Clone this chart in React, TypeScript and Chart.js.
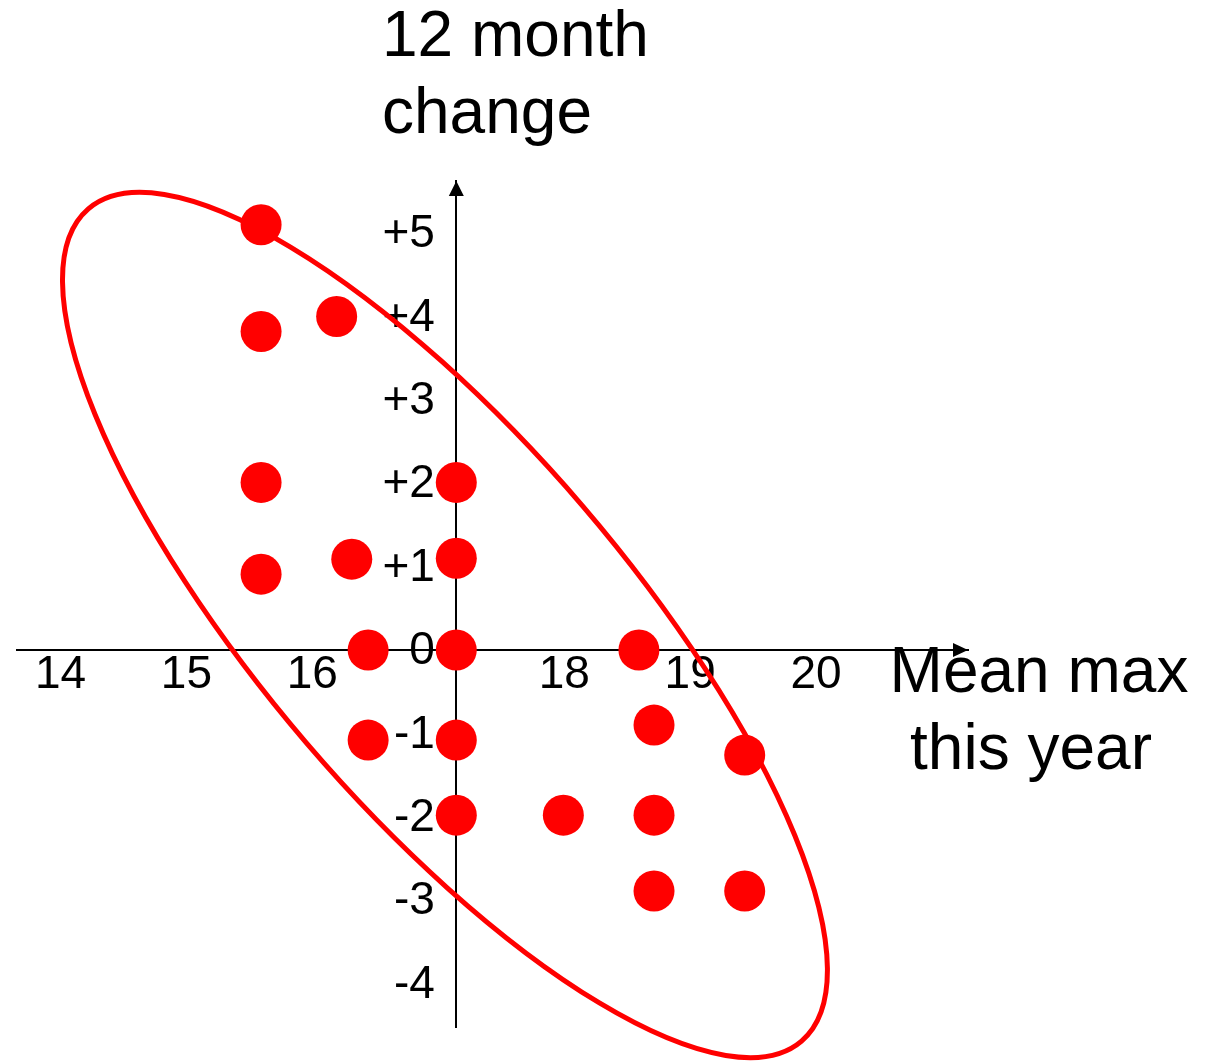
import React, { useEffect, useRef } from 'react';
import { Chart, registerables } from 'chart.js';

Chart.register(...registerables);

// Data: x = mean max this year, y = 12 month change
const MEAN_MAX = [15.45, 15.45, 16.05, 15.45, 15.45, 16.17, 16.3, 17, 17, 17, 16.3, 17, 17, 17.85, 18.45, 18.57, 19.29, 18.57, 18.57, 19.29];
const CHANGE = [5.1, 3.82, 4.0, 2.01, 0.91, 1.09, 0, 2.01, 1.1, 0, -1.08, -1.08, -1.98, -1.98, 0, -0.9, -1.26, -1.98, -2.89, -2.89];

const X_TICKS = [14, 15, 16, 18, 19, 20];
const Y_TICKS = [5, 4, 3, 2, 1, 0, -1, -2, -3, -4];

const X_TITLE = ['Mean max', 'this year'];
const Y_TITLE = ['12 month', 'change'];

const ELLIPSE_CENTER = { x: 16.91, y: 0.3 };

const FONT = "'Liberation Sans', Arial, sans-serif";
const X_MIN = 13.508;
const X_MAX = 21.063;
const Y_MIN = -4.52;
const Y_MAX = 5.624;

const SHIFT = 4; // canvas is shifted left by this many px

const ellipsePlugin = {
  id: 'ellipseOutline',
  beforeDatasetsDraw(chart: any) {
    const { ctx, scales } = chart;
    const cx = scales.x.getPixelForValue(ELLIPSE_CENTER.x);
    const cy = scales.y.getPixelForValue(ELLIPSE_CENTER.y);
    ctx.save();
    ctx.beginPath();
    ctx.ellipse(cx, cy, 548, 182, (49.4 * Math.PI) / 180, 0, Math.PI * 2);
    ctx.strokeStyle = '#ff0000';
    ctx.lineWidth = 5;
    ctx.stroke();
    ctx.restore();
  },
};

const arrowPlugin = {
  id: 'axisArrows',
  afterDatasetsDraw(chart: any) {
    const { ctx, scales } = chart;
    const ax = scales.x.getPixelForValue(17);
    const ay = scales.y.getPixelForValue(0);
    const top = scales.y.top;
    const right = scales.x.right;
    ctx.save();
    ctx.fillStyle = '#000';
    ctx.beginPath();
    ctx.moveTo(ax, top);
    ctx.lineTo(ax - 7.5, top + 15);
    ctx.lineTo(ax + 7.5, top + 15);
    ctx.closePath();
    ctx.fill();
    ctx.beginPath();
    ctx.moveTo(right, ay);
    ctx.lineTo(right - 15, ay - 7);
    ctx.lineTo(right - 15, ay + 7);
    ctx.closePath();
    ctx.fill();
    ctx.restore();
  },
};

const titlePlugin = {
  id: 'axisTitles',
  afterDraw(chart: any) {
    const { ctx } = chart;
    ctx.save();
    ctx.fillStyle = '#000';
    ctx.font = `64px ${FONT}`;
    ctx.textBaseline = 'alphabetic';
    ctx.textAlign = 'left';
    Y_TITLE.forEach((t, i) => ctx.fillText(t, 382 + SHIFT, 56 + i * 77));
    ctx.textAlign = 'center';
    const xc = [1039, 1031];
    X_TITLE.forEach((t, i) => ctx.fillText(t, xc[i] + SHIFT, 692 + i * 77));
    ctx.restore();
  },
};

const tickFont = { family: FONT, size: 46, lineHeight: 1 };

export default function App() {
  const ref = useRef<HTMLCanvasElement | null>(null);

  useEffect(() => {
    document.body.style.margin = '0';
    const canvas = ref.current;
    if (!canvas) return;
    const points = MEAN_MAX.map((x, i) => ({ x, y: CHANGE[i] }));
    const chart = new Chart(canvas, {
      type: 'scatter',
      data: {
        datasets: [
          {
            data: points,
            xAxisID: 'x',
            yAxisID: 'y',
            backgroundColor: '#ff0000',
            borderWidth: 0,
            pointRadius: 20.5,
            pointHoverRadius: 20.5,
          },
        ],
      },
      options: {
        animation: false,
        responsive: false,
        devicePixelRatio: 1,
        layout: { padding: { left: 16 + SHIFT, right: 241, top: 181, bottom: 35 } },
        plugins: { legend: { display: false }, tooltip: { enabled: false } },
        scales: {
          x: {
            type: 'linear',
            position: { y: 0 } as any,
            min: X_MIN,
            max: X_MAX,
            afterBuildTicks: (s: any) => {
              s.ticks = X_TICKS.map((v) => ({ value: v }));
            },
            grid: { display: false, drawTicks: false },
            border: { display: true, color: '#000', width: 2 },
            ticks: {
              color: '#000',
              font: tickFont,
              padding: 2,
              labelOffset: -18,
              maxRotation: 0,
              autoSkip: false,
            },
          },
          y: {
            type: 'linear',
            position: { x: 17 } as any,
            min: Y_MIN,
            max: Y_MAX,
            grid: { display: false, drawTicks: false },
            border: { display: true, color: '#000', width: 2 },
            ticks: { display: false },
          },
          yLabels: {
            type: 'linear',
            axis: 'y',
            position: { x: 16.83 } as any,
            min: Y_MIN,
            max: Y_MAX,
            afterBuildTicks: (s: any) => {
              s.ticks = Y_TICKS.map((v) => ({ value: v }));
            },
            grid: { display: false, drawTicks: false },
            border: { display: false },
            ticks: {
              color: '#000',
              font: tickFont,
              padding: 0,
              labelOffset: 1.5,
              autoSkip: false,
              callback: (v: any) => (v > 0 ? '+' + v : String(v)),
            },
          },
        },
      },
      plugins: [ellipsePlugin, arrowPlugin, titlePlugin],
    });
    return () => chart.destroy();
  }, []);

  return (
    <div style={{ position: 'absolute', left: -SHIFT, top: 0, width: 1209 + SHIFT, height: 1062 }}>
      <canvas ref={ref} width={1209 + SHIFT} height={1062} />
    </div>
  );
}
